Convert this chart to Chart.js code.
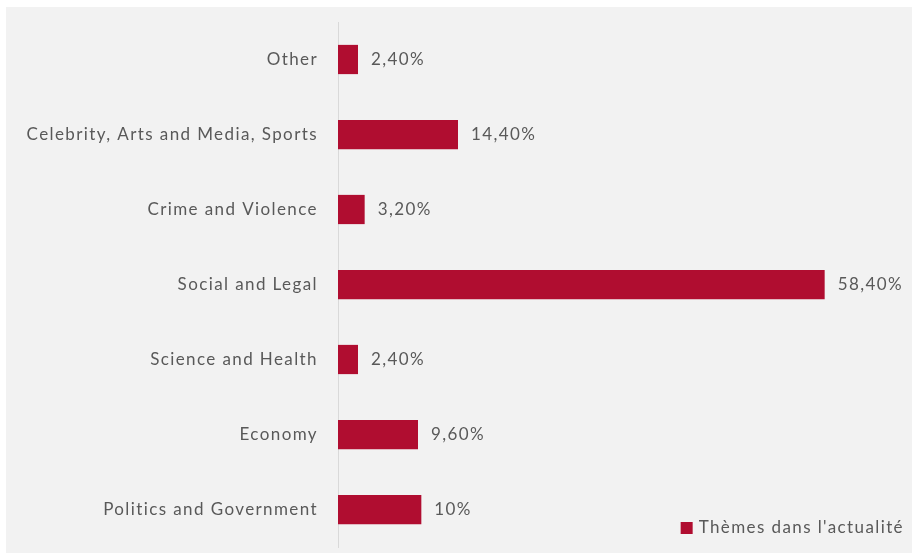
<!DOCTYPE html>
<html>
<head>
<meta charset="utf-8">
<script src="https://cdn.jsdelivr.net/npm/chart.js@4"></script>
<style>
  html, body { margin: 0; padding: 0; background: #ffffff; overflow: hidden; }
  canvas { display: block; }
</style>
</head>
<body>
<canvas id="themes" width="912" height="554"></canvas>
<script>
const categories = [
  'Other',
  'Celebrity, Arts and Media, Sports',
  'Crime and Violence',
  'Social and Legal',
  'Science and Health',
  'Economy',
  'Politics and Government',
]
const shares = [2.4, 14.4, 3.2, 58.4, 2.4, 9.6, 10]
const seriesName = "Thèmes dans l'actualité"

const barColor = '#B00D30'
const textColor = '#595959'
const fontFamily = 'Lato, "Open Sans", sans-serif'
const fontSize = 17
const spacing = '1.4px'

// 2.4 -> "2,40%", 10 -> "10%"
function frPercent(v) {
  if (Number.isInteger(v)) return v + '%'
  return v.toFixed(2).replace('.', ',') + '%'
}

// grey panel behind everything, and wider letter spacing for all text
const panel = {
  id: 'panel',
  beforeDraw(chart) {
    const c = chart.ctx
    c.save()
    c.fillStyle = '#F2F2F2'
    c.fillRect(6, 7, chart.width - 6, 546)
    c.restore()
    c.letterSpacing = spacing
  },
}

// value labels at the end of each bar
const barValues = {
  id: 'barValues',
  afterDatasetsDraw(chart) {
    const c = chart.ctx
    const meta = chart.getDatasetMeta(0)
    c.save()
    c.letterSpacing = spacing
    c.font = fontSize + 'px ' + fontFamily
    c.fillStyle = textColor
    c.textAlign = 'left'
    c.textBaseline = 'middle'
    meta.data.forEach((bar, i) => {
      c.fillText(frPercent(shares[i]), bar.x + 13, bar.y)
    })
    c.restore()
  },
}

// small legend in the lower right corner
const cornerLegend = {
  id: 'cornerLegend',
  afterDraw(chart) {
    const c = chart.ctx
    const ds = chart.data.datasets[0]
    c.save()
    c.letterSpacing = spacing
    c.font = fontSize + 'px ' + fontFamily
    c.textBaseline = 'middle'
    const w = c.measureText(ds.label).width
    const x = 904 - w
    const y = 528
    c.fillStyle = ds.backgroundColor
    c.fillRect(x - 18, y - 6, 12, 12)
    c.fillStyle = textColor
    c.fillText(ds.label, x, y)
    c.restore()
  },
}

new Chart(document.getElementById('themes'), {
  type: 'bar',
  data: {
    labels: categories,
    datasets: [
      {
        label: seriesName,
        data: shares,
        backgroundColor: barColor,
        categoryPercentage: 1,
        barPercentage: 0.39,
      },
    ],
  },
  options: {
    indexAxis: 'y',
    responsive: false,
    animation: false,
    layout: { padding: { left: 0, right: 74, top: 22, bottom: 7 } },
    scales: {
      x: { display: false, min: 0, max: 60 },
      y: {
        afterFit(scale) {
          scale.width = 338
          // the tick padding would otherwise push the plot area in
          scale.paddingTop = 0
          scale.paddingBottom = 0
        },
        grid: { display: false, drawTicks: false },
        border: { display: true, color: '#D9D9D9' },
        ticks: {
          color: textColor,
          padding: 20,
          font: { family: fontFamily, size: fontSize },
        },
      },
    },
    plugins: {
      legend: { display: false },
      tooltip: { enabled: false },
    },
  },
  plugins: [panel, barValues, cornerLegend],
})
</script>
</body>
</html>
